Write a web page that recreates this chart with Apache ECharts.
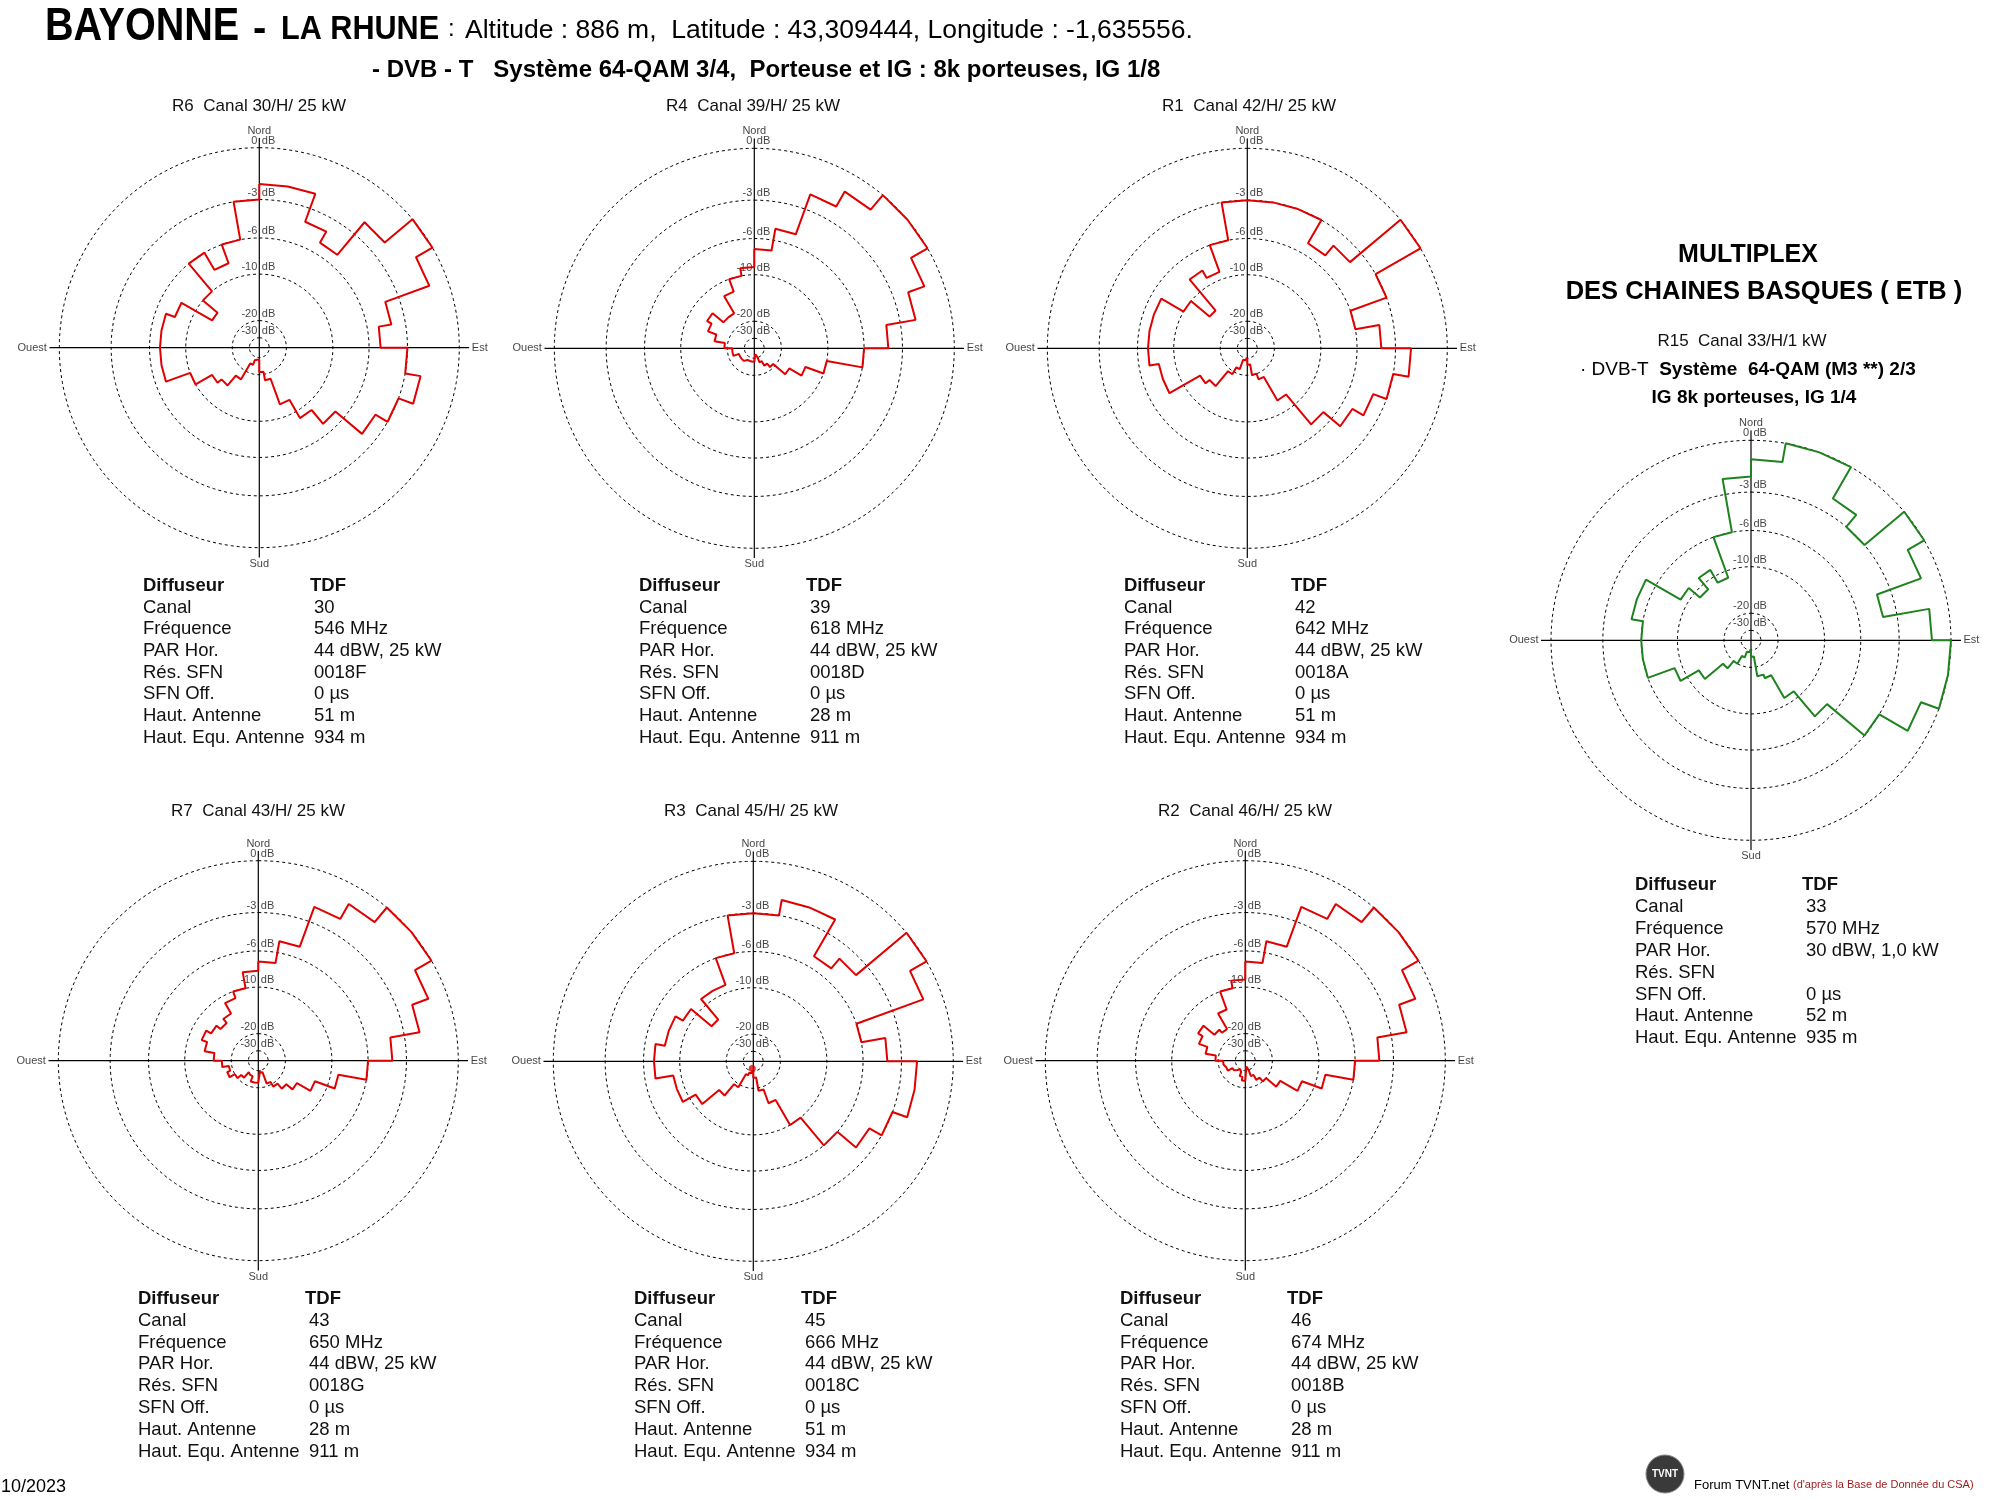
<!DOCTYPE html>
<html><head><meta charset="utf-8">
<script src="https://cdn.jsdelivr.net/npm/echarts@6/dist/echarts.min.js"></script>
<style>html,body{margin:0;padding:0;background:#fff}#c{width:2000px;height:1500px}</style>
</head><body><div id="c"></div>
<script>
// ---------- DATA ----------
// sector start azimuths (degrees, clockwise from north), each sector is 10 deg wide
const azimuths = [0,10,20,30,40,50,60,70,80,90,100,110,120,130,140,150,160,170,
                  180,190,200,210,220,230,240,250,260,270,280,290,300,310,320,330,340,350];
const sectorWidth = 10;
// attenuation (dB) per sector
const patR6  = [-2,-2,-4,-5,-2,0,-1,-4,-5,-3,-2,-3,-4,-7,-9,-12,-18,-21,-28,-27,-24,-17,-14,-13,-10,-7,-7,-7,-7,-8,-13,-10,-6,-8,-6,-3];
const patR4  = [-7,-5,-2,-1,0,0,-1,-2,-4,-6,-10,-13,-16,-21,-23,-26,-30,-35,-27,-27,-27,-27,-25,-25,-25,-22,-22,-19,-16,-14,-13,-16,-16,-12,-10,-9];
const patR1  = [-3,-3,-3,-5,-4,0,-3,-6,-4,-2,-3,-4,-5,-7,-12,-18,-20,-25,-30,-28,-22,-19,-14,-13,-8,-8,-7,-7,-7,-7,-10,-14,-8,-9,-6,-3];
const patR7  = [-7,-5,-2,-1,0,0,-1,-2,-4,-6,-9,-12,-15,-17,-19,-21,-28,-30,-22,-22,-25,-26,-22,-20,-18,-19,-17,-15,-13,-12,-13,-14,-13,-11,-10,-8];
const patR3  = [-3,-2,-2,-5,-4,0,-1,-6,-4,-2,-2,-3,-4,-6,-10,-15,-19,-25,-30,-28,-26,-19,-15,-11,-9,-9,-7,-7,-8,-8,-9,-13,-9,-9,-6,-3];
const patR2  = [-7,-5,-2,-1,0,0,-1,-2,-4,-6,-9,-12,-16,-20,-22,-25,-30,-35,-23,-25,-28,-30,-28,-26,-23,-22,-22,-19,-16,-14,-13,-16,-17,-13,-10,-9];
const patR15 = [-1,0,0,-2,-3,0,-1,-4,-1,0,0,-1,-3,-7,-11,-16,-17,-25,-30,-28,-24,-20,-17,-12,-9,-6,-6,-6,-5,-5,-9,-11,-9,-11,-6,-2];
// marker near centre of R3 diagram: [dB, azimuth]
const markerR3 = [-33, 188];

const ringLevels = [0, -3, -6, -10, -20, -30];
const ringLabels = ['0', '-3', '-6', '-10', '-20', '-30'];
const compass = ['Nord', 'Est', 'Sud', 'Ouest'];
const compassAz = [0, 90, 180, 270];

const chartTitles = ['R6  Canal 30/H/ 25 kW','R4  Canal 39/H/ 25 kW','R1  Canal 42/H/ 25 kW',
                     'R7  Canal 43/H/ 25 kW','R3  Canal 45/H/ 25 kW','R2  Canal 46/H/ 25 kW','R15  Canal 33/H/1 kW'];
const infoLabels = ['Diffuseur','Canal','Fréquence','PAR Hor.','Rés. SFN','SFN Off.','Haut. Antenne','Haut. Equ. Antenne'];
const infoR6  = ['TDF','30','546 MHz','44 dBW, 25 kW','0018F','0 µs','51 m','934 m'];
const infoR4  = ['TDF','39','618 MHz','44 dBW, 25 kW','0018D','0 µs','28 m','911 m'];
const infoR1  = ['TDF','42','642 MHz','44 dBW, 25 kW','0018A','0 µs','51 m','934 m'];
const infoR7  = ['TDF','43','650 MHz','44 dBW, 25 kW','0018G','0 µs','28 m','911 m'];
const infoR3  = ['TDF','45','666 MHz','44 dBW, 25 kW','0018C','0 µs','51 m','934 m'];
const infoR2  = ['TDF','46','674 MHz','44 dBW, 25 kW','0018B','0 µs','28 m','911 m'];
const infoR15 = ['TDF','33','570 MHz','30 dBW, 1,0 kW','','0 µs','52 m','935 m'];

// ---------- LAYOUT / STYLE ----------
const SANS = "'Liberation Sans', Arial, sans-serif";
const RED = '#e00000', GREEN = '#1e821e';
const layout = [
  {pat: patR6,  info: infoR6,  cx: 259.3, cy: 347.7, ty: 106, ix: 143,  iy: 586, idy: 21.65, color: RED},
  {pat: patR4,  info: infoR4,  cx: 754.3, cy: 348.3, ty: 106, ix: 639,  iy: 586, idy: 21.65, color: RED},
  {pat: patR1,  info: infoR1,  cx: 1247.3,cy: 348.3, ty: 106, ix: 1124, iy: 586, idy: 21.65, color: RED},
  {pat: patR7,  info: infoR7,  cx: 258.3, cy: 1060.7,ty: 811, ix: 138,  iy: 1299, idy: 21.8, color: RED},
  {pat: patR3,  info: infoR3,  cx: 753.3, cy: 1061.3,ty: 811, ix: 634,  iy: 1299, idy: 21.8, color: RED, marker: markerR3},
  {pat: patR2,  info: infoR2,  cx: 1245.3,cy: 1060.7,ty: 811, ix: 1120, iy: 1299, idy: 21.8, color: RED},
  {pat: patR15, info: infoR15, cx: 1751,  cy: 640.3, ty: 341, ix: 1635, iy: 885, idy: 21.9, color: GREEN}
];
const titleX = [259, 753, 1249, 258, 751, 1245, 1742];
const R_MAX = 1.05;      // radius axis max (0 dB ring at 1)
const POLAR_R = 210;     // px for R_MAX

// radial scale of the diagrams: relative radius = e^(dB/10)
function dbToRadius(db) { return Math.exp(db / 10); }

function patternData(vals) {
  const pts = [];
  for (let i = 0; i < vals.length; i++) {
    const r = dbToRadius(vals[i]);
    pts.push([r, azimuths[i]]);
    pts.push([r, azimuths[i] + sectorWidth]);
  }
  pts.push(pts[0]);
  return pts;
}
function ringData(db) {
  const r = dbToRadius(db), pts = [];
  for (let a = 0; a <= 360; a += 2) pts.push([r, a]);
  return pts;
}

const polar = [], angleAxis = [], radiusAxis = [], series = [], graphic = [];
layout.forEach((c, k) => {
  polar.push({center: [c.cx, c.cy], radius: POLAR_R});
  angleAxis.push({polarIndex: k, type: 'value', min: 0, max: 360, startAngle: 90, clockwise: true, show: false});
  radiusAxis.push({polarIndex: k, type: 'value', min: 0, max: R_MAX, show: false});
  ringLevels.forEach(db => series.push({
    type: 'line', coordinateSystem: 'polar', polarIndex: k, data: ringData(db), showSymbol: false, symbol: 'none',
    silent: true, clip: false, z: 1, lineStyle: {color: '#000', width: 1, type: [3, 3]}
  }));
  series.push({type: 'line', coordinateSystem: 'polar', polarIndex: k, data: [[R_MAX, 0], [0, 0], [R_MAX, 180]],
    symbol: 'none', silent: true, clip: false, z: 2, lineStyle: {color: '#000', width: 1.2}});
  series.push({type: 'line', coordinateSystem: 'polar', polarIndex: k, data: [[R_MAX, 90], [0, 90], [R_MAX, 270]],
    symbol: 'none', silent: true, clip: false, z: 2, lineStyle: {color: '#000', width: 1.2}});
  const pos = {Nord: 'top', Est: 'right', Sud: 'bottom', Ouest: 'left'};
  const dist = {Nord: 1, Est: 2, Sud: 0, Ouest: 2};
  series.push({type: 'scatter', coordinateSystem: 'polar', polarIndex: k, symbolSize: 1, silent: true, z: 3,
    itemStyle: {color: 'rgba(0,0,0,0)'},
    data: compass.map((n, i) => ({value: [R_MAX, compassAz[i]], name: n,
      label: {position: pos[n], distance: dist[n]}})),
    label: {show: true, formatter: p => p.name, fontSize: 11, fontFamily: SANS, color: '#111'}});
  series.push({type: 'scatter', coordinateSystem: 'polar', polarIndex: k, symbolSize: 1, silent: true, z: 3,
    itemStyle: {color: 'rgba(0,0,0,0)'},
    data: ringLevels.map((db, i) => ({value: [dbToRadius(db), 0], name: ringLabels[i]})),
    label: {show: true, formatter: p => p.name, position: [-1.5, -1], align: 'right', verticalAlign: 'bottom',
      fontSize: 11, fontFamily: SANS, color: '#111'}});
  series.push({type: 'scatter', coordinateSystem: 'polar', polarIndex: k, symbolSize: 1, silent: true, z: 3,
    itemStyle: {color: 'rgba(0,0,0,0)'},
    data: ringLevels.map(db => ({value: [dbToRadius(db), 0], name: 'dB'})),
    label: {show: true, formatter: 'dB', position: [3, -1], align: 'left', verticalAlign: 'bottom',
      fontSize: 11, fontFamily: SANS, color: '#111'}});
  series.push({type: 'line', coordinateSystem: 'polar', polarIndex: k, data: patternData(c.pat), symbol: 'none',
    silent: true, clip: false, z: 5, lineStyle: {color: c.color, width: 2}});
  if (c.marker) {
    series.push({type: 'scatter', coordinateSystem: 'polar', polarIndex: k, symbolSize: 7, silent: true, z: 6,
      itemStyle: {color: c.color}, data: [[dbToRadius(c.marker[0]), c.marker[1]]]});
  }
  // titles
  graphic.push({type: 'text', x: titleX[k], y: c.ty, style: {text: chartTitles[k], font: '17px ' + SANS,
    fill: '#111', textAlign: 'center', textVerticalAlign: 'middle'}});
  // info block
  infoLabels.forEach((lab, i) => {
    const y = c.iy + i * c.idy, bold = i === 0;
    graphic.push({type: 'text', x: c.ix, y: y, style: {text: lab, font: (bold ? 'bold ' : '') + '18.5px ' + SANS,
      fill: '#111', textAlign: 'left', textVerticalAlign: 'middle'}});
    if (c.info[i]) graphic.push({type: 'text', x: c.ix + (bold ? 167 : 171), y: y, style: {text: c.info[i],
      font: (bold ? 'bold ' : '') + '18.5px ' + SANS, fill: '#111', textAlign: 'left', textVerticalAlign: 'middle'}});
  });
});

// header
const T = (x, y, text, font, extra, sx) => graphic.push({type: 'text', x: x, y: y, scaleX: sx || 1,
  style: Object.assign({text: text, font: font, fill: '#000', textAlign: 'left', textVerticalAlign: 'middle'}, extra || {})});
T(45, 27, 'BAYONNE', 'bold 46px ' + SANS, null, 0.86);
T(253, 30, '-', 'bold 40px ' + SANS);
T(281, 30, 'LA RHUNE', 'bold 34px ' + SANS, null, 0.9);
T(448, 29, ':', '24px ' + SANS);
T(465, 31, 'Altitude : 886 m,  Latitude : 43,309444, Longitude : -1,635556.', '26.5px ' + SANS);
T(372, 70, '- DVB - T   Système 64-QAM 3/4,  Porteuse et IG : 8k porteuses, IG 1/8', 'bold 24px ' + SANS);
// right block
T(1748, 255, 'MULTIPLEX', 'bold 25px ' + SANS, {textAlign: 'center'});
T(1764, 292, 'DES CHAINES BASQUES ( ETB )', 'bold 25.5px ' + SANS, {textAlign: 'center'});
graphic.push({type: 'text', x: 1580, y: 370, style: {rich: {a: {font: '19px ' + SANS, fill: '#000'}, b: {font: 'bold 19px ' + SANS, fill: '#000'}},
  text: '{a|· DVB-T  }{b|Système  64-QAM (M3 **) 2/3}', textAlign: 'left', textVerticalAlign: 'middle'}});
T(1754, 398, 'IG 8k porteuses, IG 1/4', 'bold 19px ' + SANS, {textAlign: 'center'});
// footer
T(1, 1487, '10/2023', '18px ' + SANS);
graphic.push({type: 'circle', shape: {cx: 1665, cy: 1474, r: 19}, style: {fill: '#3a3a3a', stroke: '#888', lineWidth: 1}});
T(1665, 1474, 'TVNT', 'bold 10px ' + SANS, {fill: '#fff', textAlign: 'center'});
graphic.push({type: 'text', x: 1694, y: 1485, style: {rich: {a: {font: '13px ' + SANS, fill: '#000'}, b: {font: '11px ' + SANS, fill: '#9a1a1a'}},
  text: '{a|Forum TVNT.net }{b|(d\'après la Base de Donnée du CSA)}', textAlign: 'left', textVerticalAlign: 'middle'}});

const chart = echarts.init(document.getElementById('c'), null, {renderer: 'canvas'});
chart.setOption({animation: false, backgroundColor: '#fff', polar, angleAxis, radiusAxis, series, graphic});
</script></body></html>
